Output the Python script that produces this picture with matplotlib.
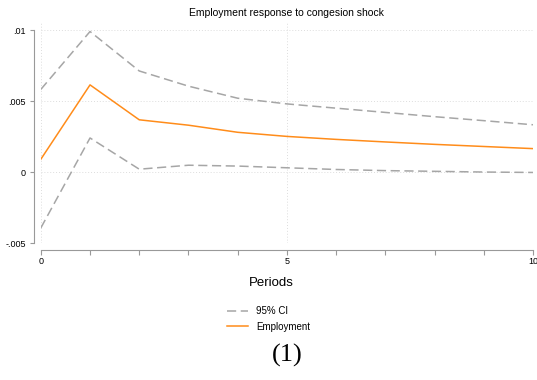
import numpy as np
import matplotlib
matplotlib.use('Agg')
import matplotlib.pyplot as plt
from matplotlib.ticker import FixedLocator

periods = [0, 1, 2, 3, 4, 5, 6, 7, 8, 9, 10]
employment = [0.00090, 0.00614, 0.00368, 0.00330, 0.00280, 0.00251, 0.00230, 0.00212, 0.00195, 0.00180, 0.00165]
ci_upper = [0.00582, 0.00990, 0.00712, 0.00605, 0.00520, 0.00480, 0.00450, 0.00420, 0.00390, 0.00362, 0.00333]
ci_lower = [-0.00394, 0.00240, 0.00020, 0.00048, 0.00042, 0.00030, 0.00018, 0.00010, 0.00005, 0.00000, -0.00003]

y_ticks = [-0.005, 0, 0.005, 0.01]
y_labels = ['-.005', '0', '.005', '.01']

plt.rcParams['font.family'] = ['Liberation Sans', 'DejaVu Sans']

fig = plt.figure(figsize=(5.37, 3.80), dpi=100)
ax = fig.add_axes([0.076, 0.3605, 0.9165, 0.579])

gray = '#a6a6a6'
orange = '#ff8c1a'
ax.plot(periods, ci_upper, color=gray, lw=1.1, dashes=(6, 3), label='95% CI')
ax.plot(periods, ci_lower, color=gray, lw=1.1, dashes=(6, 3))
ax.plot(periods, employment, color=orange, lw=1.1, label='Employment')

ax.set_xlim(0, 10)
ax.set_ylim(-0.005, 0.0105)
ax.set_xticks([0, 5, 10])
ax.set_xticklabels(['0', '5', '10'])
ax.xaxis.set_minor_locator(FixedLocator([1, 2, 3, 4, 6, 7, 8, 9]))
ax.set_yticks(y_ticks)
ax.set_yticklabels(y_labels)

for s in ['top', 'right']:
    ax.spines[s].set_visible(False)
ax.spines['left'].set_position(('outward', 4.9))
ax.spines['bottom'].set_position(('outward', 5))
ax.spines['left'].set_bounds(-0.005, 0.01)
ax.spines['bottom'].set_bounds(0, 10)
for s in ['left', 'bottom']:
    ax.spines[s].set_color('#999999')
    ax.spines[s].set_linewidth(0.8)
ax.tick_params(axis='both', which='both', colors='#999999', labelcolor='black', labelsize=6.5, width=0.8)
ax.tick_params(axis='y', which='major', length=3, pad=3)
ax.tick_params(axis='x', which='both', length=3.5, pad=1.5)

ax.grid(True, which='major', color='#dddddd', linestyle=(0, (1, 2)), linewidth=0.7)
ax.set_axisbelow(True)

fig.text(0.5 + 0.0343, 1 - 13 / 380, 'Employment response to congesion shock', ha='center', va='center', fontsize=7.5)
ax.set_xlabel('Periods', fontsize=9.5)
ax.xaxis.set_label_coords(0.469, -0.155)

fig.legend(loc='upper left', bbox_to_anchor=(0.415, 0.205), frameon=False, fontsize=7,
           handlelength=2.2, handletextpad=0.8, labelspacing=0.6, borderaxespad=0)

fig.text(287 / 537, 1 - 355 / 380, '(1)', ha='center', va='center', fontsize=19, family='Liberation Serif')

fig.savefig('out.png', dpi=100)
